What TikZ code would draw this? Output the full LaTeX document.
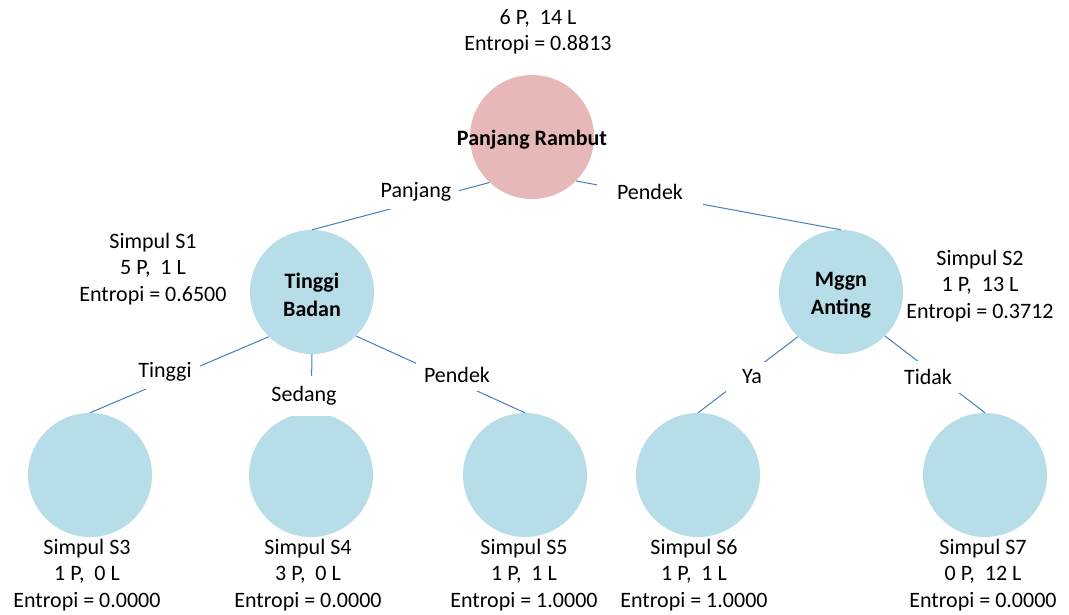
\documentclass[tikz,border=0pt]{standalone}
\usepackage{fontspec}
\setmainfont{Carlito}
\definecolor{rootpink}{RGB}{230,185,184}
\definecolor{leafblue}{RGB}{183,221,232}
\definecolor{edgeblue}{RGB}{74,126,187}
\tikzset{
  txt/.style={font=\fontsize{22}{26.5}\selectfont, align=center, inner sep=0pt},
  boldtxt/.style={font=\bfseries\fontsize{22}{28}\selectfont, align=center, inner sep=0pt},
  circ/.style={circle, minimum size=124pt, inner sep=0pt, fill=leafblue},
  rootcirc/.style={circ, fill=rootpink},
  conn/.style={draw=edgeblue, line width=1pt},
  edgelab/.style={font=\fontsize{22}{26.5}\selectfont, fill=white, inner sep=8pt},
}
\begin{document}
\begin{tikzpicture}[x=1pt, y=-1pt]
\useasboundingbox[fill=white] (0,0) rectangle (1069,614);
% circles
\node[rootcirc] (root) at (532,137) {};
\node[circ] (tb) at (312,292) {};
\node[circ] (ma) at (841,292) {};
\node[circ] (s3) at (90,475) {};
\node[circ] (s4) at (311,475) {};
\node[circ] (s5) at (525,475) {};
\node[circ] (s6) at (698,475) {};
\node[circ] (s7) at (985,475) {};
% circle texts
\node[boldtxt] (roott) at (532,140) {Panjang Rambut};
\node[boldtxt] (tbt) at (312,295) {Tinggi\\Badan};
\node[boldtxt] (mat) at (841,295) {Mggn\\Anting};
% connectors
\draw[conn] (root.227) -- (tb.north);
\draw[conn] (root.315) -- (ma.north);
\draw[conn] (tb.226) -- (s3.north);
\draw[conn] (tb.south) -- (s4.north);
\draw[conn] (tb.315) -- (s5.north);
\draw[conn] (ma.226) -- (s6.north);
\draw[conn] (ma.315) -- (s7.north);
% edge labels
\node[edgelab] (lpanjang) at (416,192) {Panjang};
\node[edgelab, inner xsep=20pt] (lpendek) at (650,192) {Pendek};
\node[edgelab] (ltinggi) at (165,372) {Tinggi};
\node[edgelab, inner ysep=10pt] (lsedang) at (304,396) {Sedang};
\node[edgelab] (lpendek2) at (457,375) {Pendek};
\node[edgelab, inner xsep=16pt] (lya) at (752,377) {Ya};
\node[edgelab] (ltidak) at (928,377) {Tidak};
% info texts
\node[txt] (iroot) at (538,32) {6 P,~~14 L\\Entropi = 0.8813};
\node[txt] (is1) at (153,269) {Simpul S1\\5 P,~~1 L\\Entropi = 0.6500};
\node[txt] (is2) at (980,286) {Simpul S2\\1 P,~~13 L\\Entropi = 0.3712};
\node[txt] (is3) at (87,575) {Simpul S3\\1 P,~~0 L\\Entropi = 0.0000};
\node[txt] (is4) at (308,575) {Simpul S4\\3 P,~~0 L\\Entropi = 0.0000};
\node[txt] (is5) at (524,575) {Simpul S5\\1 P,~~1 L\\Entropi = 1.0000};
\node[txt] (is6) at (694,575) {Simpul S6\\1 P,~~1 L\\Entropi = 1.0000};
\node[txt] (is7) at (983,575) {Simpul S7\\0 P,~~12 L\\Entropi = 0.0000};
\end{tikzpicture}
\end{document}
